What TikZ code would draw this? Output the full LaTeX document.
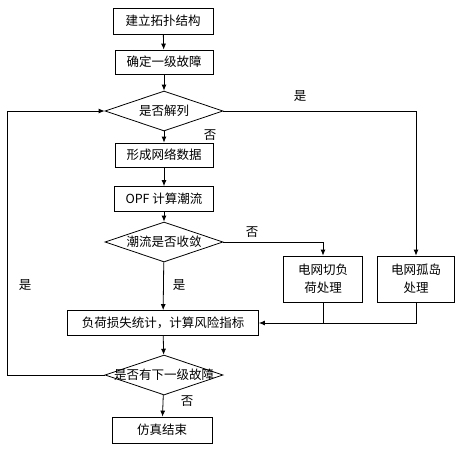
\documentclass[tikz,border=0pt]{standalone}
\usepackage{fontspec}
\setmainfont{Noto Sans CJK SC}
\usetikzlibrary{shapes.geometric,arrows.meta}
\begin{document}
\begin{tikzpicture}[x=1pt,y=-1pt,
  font=\fontsize{12.5pt}{18pt}\selectfont,
  line width=0.8pt,
  box/.style={draw,rectangle,inner sep=0pt,align=center},
  dia/.style={draw,diamond,inner sep=0pt,minimum width=118pt,minimum height=40pt},
  arr/.style={-{Latex[length=6pt,width=5pt]}},
  lbl/.style={inner sep=0pt}]
\useasboundingbox (0,0) rectangle (462,450);
\node[box,minimum width=100pt,minimum height=26pt] (b1) at (163,21) {建立拓扑结构};
\node[box,minimum width=98pt,minimum height=24pt] (b2) at (164,62) {确定一级故障};
\node[dia] (d1) at (164,111) {};
\node at (d1) {是否解列};
\node[box,minimum width=98pt,minimum height=24pt] (b3) at (164,155) {形成网络数据};
\node[box,minimum width=99pt,minimum height=25pt] (b4) at (164,199) {OPF 计算潮流};
\node[dia] (d2) at (164,242) {};
\node at (d2) {潮流是否收敛};
\node[box,minimum width=79pt,minimum height=46pt] (c1) at (323,279) {电网切负\\荷处理};
\node[box,minimum width=77pt,minimum height=46pt] (c2) at (416,279) {电网孤岛\\处理};
\node[box,minimum width=191pt,minimum height=25pt] (b5) at (163,323) {负荷损失统计，计算风险指标};
\node[dia] (d3) at (164,375) {};
\node at (d3) {是否有下一级故障};
\node[box,minimum width=100pt,minimum height=26pt] (b6) at (162,430) {仿真结束};
\coordinate (lt) at (7,375);
\draw[arr] (b1) -- (b2);
\draw[arr] (b2) -- (d1);
\draw[arr] (d1) -- (b3);
\draw[arr] (b3) -- (b4);
\draw[arr] (b4) -- (d2);
\draw[arr] (d2) -- (b5);
\draw[arr] (b5) -- (d3);
\draw[arr] (d3) -- (b6);
\draw[arr] (d1.east) -| (c2.north);
\draw[arr] (d2.east) -| (c1.north);
\draw (c1.south) -- (c1.south |- b5.east);
\draw[arr] (c2.south) |- (b5.east);
\draw[arr] (d3.west) -- (lt) |- (d1.west);
\node[lbl] at (300,96) {是};
\node[lbl] at (210,135) {否};
\node[lbl] at (252,232) {否};
\node[lbl] at (179,285) {是};
\node[lbl] at (25,285) {是};
\node[lbl] at (187,401) {否};
\end{tikzpicture}
\end{document}
